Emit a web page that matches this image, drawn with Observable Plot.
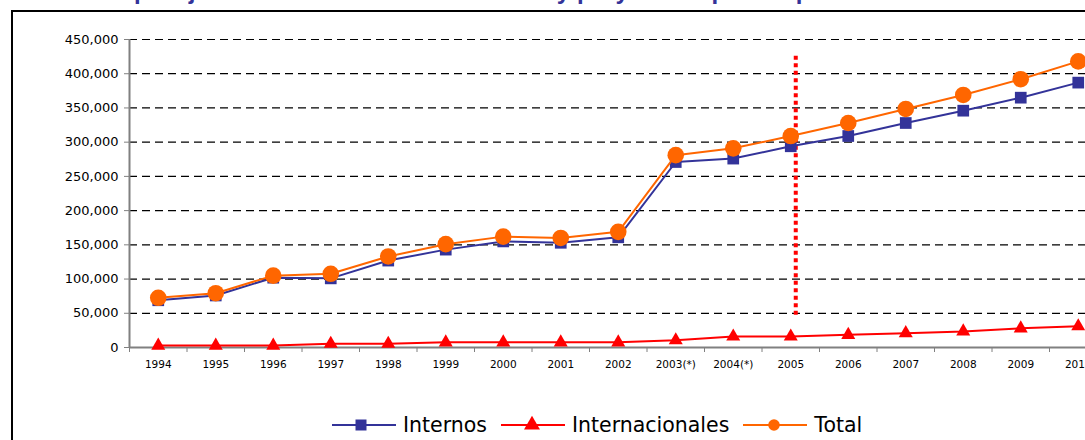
<!DOCTYPE html>
<html>
<head>
<meta charset="utf-8">
<script src="https://cdn.jsdelivr.net/npm/d3@7"></script>
<script src="https://cdn.jsdelivr.net/npm/@observablehq/plot@0.6"></script>
<style>
  html, body { margin: 0; padding: 0; background: #fff; overflow: hidden; }
  #page { position: relative; width: 1085px; height: 440px; overflow: hidden; }
  #title { position: absolute; left: 14px; top: -21px; white-space: nowrap; font-family: "Liberation Sans", Arial, sans-serif; font-weight: bold; font-size: 24px; line-height: 24px; color: #333399; }
  #frame { position: absolute; left: 11px; top: 10px; width: 3000px; height: 3000px; border-left: 2px solid #000; border-top: 2px solid #000; }
  #chart { position: absolute; left: 0; top: 0; }
  #legend { position: absolute; left: 332px; top: 413px; display: flex; align-items: center; font-family: "DejaVu Sans", sans-serif; font-size: 20.5px; color: #000; }
  .item { display: flex; align-items: center; }
  .item + .item { margin-left: 14px; }
  .item span { margin-left: 7px; line-height: 24px; }
</style>
</head>
<body>
<div id="page">
  <div id="frame"></div>
  <div id="title">Tráfico de pasajeros internos e internacionales y proyección para el periodo 1994 - 2010</div>
  <div id="chart"></div>
  <div id="legend"></div>
</div>
<script>
const years = ["1994","1995","1996","1997","1998","1999","2000","2001","2002","2003(*)","2004(*)","2005","2006","2007","2008","2009","2010"];
const internos = [69000, 76000, 102000, 101000, 127000, 143000, 155000, 153000, 161000, 271000, 276000, 294000, 309000, 328000, 346000, 365000, 387000];
const internacionales = [2800, 2800, 2800, 5500, 5500, 7500, 7500, 7500, 7500, 10500, 16000, 16000, 18500, 21000, 23500, 28000, 31000];
const total = [72600, 79300, 105000, 107700, 133000, 151000, 162000, 160000, 169000, 281000, 291000, 309000, 328000, 348500, 369000, 392000, 418000];
const yTicks = [0, 50000, 100000, 150000, 200000, 250000, 300000, 350000, 400000, 450000];
const markerYear = ["2005"];
const markerSpan = [47000, 430000];
const seriesNames = ["Internos", "Internacionales", "Total"];
const seriesColors = ["#333399", "#FF0000", "#FF6600"];

const rows = vals => vals.map((v, i) => ({i, v}));
const n = years.length;
const idx = d3.range(n);
const bounds = d3.range(-0.5, n, 1).concat([n - 0.5]);
const step = 57.5;
const x0 = 129;

const chart = Plot.plot({
  width: 1085,
  height: 395,
  marginLeft: x0,
  marginRight: 0,
  marginTop: 39,
  marginBottom: 48,
  style: {fontFamily: "DejaVu Sans, sans-serif", fontSize: "13px", color: "#000", background: "transparent"},
  x: {type: "linear", domain: [-0.5, n - 0.5], range: [x0, x0 + n * step], axis: null},
  y: {domain: [0, 450000], range: [347, 39], axis: null},
  marks: [
    Plot.ruleY(yTicks.slice(1), {x1: -0.5, x2: n - 0.5, stroke: "#000", strokeWidth: 1.2, strokeDasharray: "8,5"}),
    Plot.ruleX([-0.5], {y1: 0, y2: 450000, stroke: "#808080", strokeWidth: 2}),
    Plot.ruleY([0], {x1: -0.5, x2: n - 0.5, stroke: "#808080", strokeWidth: 2}),
    Plot.axisY(yTicks, {tickFormat: d3.format(","), tickSize: 5, tickPadding: 6, stroke: "#808080", fill: "#000", fontSize: 13, label: null}),
    Plot.axisX(bounds, {tickSize: 5, tickFormat: () => "", stroke: "#808080", label: null}),
    Plot.axisX(idx, {tickSize: 0, tickPadding: 13, tickFormat: i => years[i], fill: "#000", fontSize: 10.5, label: null}),
    Plot.ruleX(markerYear, {x: d => years.indexOf(d), y1: markerSpan[0], y2: markerSpan[1], dx: 5, stroke: "#FF0000", strokeWidth: 4, strokeDasharray: "4,3.5"}),
    Plot.line(rows(internos), {x: "i", y: "v", stroke: seriesColors[0], strokeWidth: 2}),
    Plot.dot(rows(internos), {x: "i", y: "v", symbol: "square", r: 6.6, fill: seriesColors[0], stroke: "none"}),
    Plot.line(rows(internacionales), {x: "i", y: "v", stroke: seriesColors[1], strokeWidth: 2}),
    Plot.dot(rows(internacionales), {x: "i", y: "v", symbol: "triangle", r: 5.2, fill: seriesColors[1], stroke: "none"}),
    Plot.line(rows(total), {x: "i", y: "v", stroke: seriesColors[2], strokeWidth: 2}),
    Plot.dot(rows(total), {x: "i", y: "v", symbol: "circle", r: 8.3, fill: seriesColors[2], stroke: "none"})
  ]
});
document.getElementById("chart").appendChild(chart);

// Legend
const symbols = [d3.symbolSquare, d3.symbolTriangle, d3.symbolCircle];
const sizes = [121, 110, 105];
const legend = d3.select("#legend");
seriesNames.forEach((name, k) => {
  const item = legend.append("div").attr("class", "item");
  const svg = item.append("svg").attr("width", 64).attr("height", 24);
  svg.append("line").attr("x1", 0).attr("x2", 64).attr("y1", 12).attr("y2", 12)
    .attr("stroke", seriesColors[k]).attr("stroke-width", 2);
  svg.append("path").attr("d", d3.symbol(symbols[k], sizes[k])())
    .attr("transform", `translate(${k === 0 ? 29 : 31},12)`).attr("fill", seriesColors[k]);
  item.append("span").text(name);
});
</script>
</body>
</html>
